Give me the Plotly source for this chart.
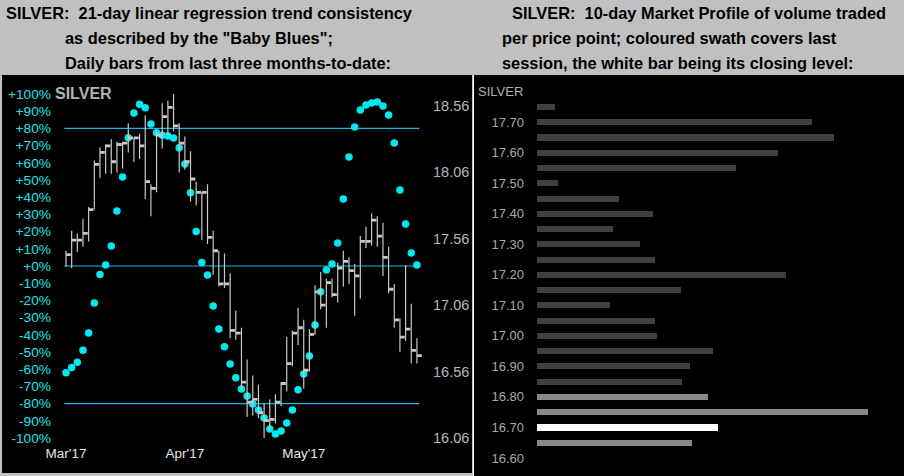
import plotly.graph_objects as go

# ---------------- data ----------------
# Left chart: daily bars (index 0..62), price axis
high = [17.47, 17.62, 17.60, 17.71, 17.80, 18.15, 18.25, 18.27, 18.31, 18.29,
        18.29, 18.43, 18.32, 18.35, 18.49, 17.97, 18.37, 18.58, 18.60, 18.65,
        18.43, 18.33, 18.22, 17.99, 17.91, 17.97, 17.62, 17.47, 17.45, 17.30,
        17.02, 16.89, 16.65, 16.53, 16.46, 16.32, 16.35, 16.39, 16.48, 16.82,
        16.87, 17.04, 16.95, 16.88, 17.21, 17.31, 17.26, 17.26, 17.38, 17.47,
        17.42, 17.37, 17.58, 17.65, 17.75, 17.73, 17.68, 17.50, 17.22, 16.96,
        17.36, 17.07, 16.81]
low = [17.35, 17.34, 17.46, 17.50, 17.54, 17.78, 18.02, 18.05, 18.05, 18.06,
       18.09, 18.21, 18.14, 18.16, 17.86, 17.73, 17.91, 18.24, 18.34, 18.37,
       18.06, 18.08, 17.84, 17.81, 17.55, 17.52, 17.29, 17.20, 17.19, 16.81,
       16.80, 16.42, 16.22, 16.23, 16.21, 16.06, 16.12, 16.17, 16.30, 16.41,
       16.60, 16.76, 16.43, 16.56, 16.84, 17.03, 16.89, 17.12, 17.08, 17.20,
       17.22, 16.98, 17.11, 17.49, 17.51, 17.50, 17.28, 17.15, 16.89, 16.71,
       16.79, 16.62, 16.62]
close = [17.44, 17.55, 17.55, 17.60, 17.78, 18.12, 18.21, 18.26, 18.14, 18.27,
         18.28, 18.32, 18.32, 18.26, 17.99, 17.94, 18.34, 18.48, 18.55, 18.41,
         18.28, 18.14, 18.01, 17.91, 17.91, 17.57, 17.47, 17.22, 17.22, 16.87,
         16.85, 16.48, 16.33, 16.35, 16.25, 16.19, 16.20, 16.33, 16.47, 16.62,
         16.85, 16.89, 16.57, 16.84, 17.16, 17.06, 17.23, 17.14, 17.34, 17.39,
         17.32, 17.28, 17.54, 17.54, 17.70, 17.58, 17.42, 17.18, 16.95, 16.82,
         16.88, 16.72, 16.68]
# "Baby Blues" trend consistency (%)
baby_blues = [-62, -59, -56, -49, -39, -21.5, -5, 0.6, 11.6, 32,
              51.7, 74.6, 89, 94, 92, 82.6, 77.5, 76, 75.6, 74.4,
              68.8, 59.3, 42.6, 20, 2, -5.2, -23.3, -36.6, -47, -57,
              -65, -71.5, -75.6, -80.2, -83.7, -88.4, -94.8, -97.7, -95.9, -91.3,
              -83.7, -72, -62.8, -52.3, -34.3, -15, -2.3, 1.2, 13.4, 39,
              63.4, 80.8, 90.7, 93.6, 94.8, 95.3, 93, 87.8, 71.5, 44.2,
              24.4, 7.6, 0.6]
ref_levels = [80, 0, -80]
month_labels = ["Mar'17", "Apr'17", "May'17"]
month_label_idx = [0, 21, 42]
pct_ticks = [100, 90, 80, 70, 60, 50, 40, 30, 20, 10, 0,
             -10, -20, -30, -40, -50, -60, -70, -80, -90, -100]
price_ticks = [16.06, 16.56, 17.06, 17.56, 18.06, 18.56]

# Right chart: 10-day market profile
profile_price = [17.75, 17.70, 17.65, 17.60, 17.55, 17.50, 17.45, 17.40, 17.35,
                 17.30, 17.25, 17.20, 17.15, 17.10, 17.05, 17.00, 16.95, 16.90,
                 16.85, 16.80, 16.75, 16.70, 16.65]
profile_volume = [18, 275, 297, 241, 199, 21, 82, 116, 76, 103, 118, 249, 144,
                  73, 118, 120, 176, 153, 145, 171, 331, 181, 155]
profile_ticks = [17.70, 17.60, 17.50, 17.40, 17.30, 17.20, 17.10, 17.00,
                 16.90, 16.80, 16.70, 16.60]
last_session_low = 16.65
last_session_high = 16.80
last_close_level = 16.70

# ---------------- layout helpers ----------------
W, H = 904, 476
FONT = "Liberation Sans"


def fx(p):
    return p / W


def fy(p):
    return 1 - p / H


CYAN_TXT = "#22e0ea"
CYAN_DOT = "#00e8f0"
CYAN_LINE = "#1ab8e8"
BAR_GRAY = "#c8c8c8"

fig = go.Figure()

# OHLC-style bars (high-low stem + close flag to the right)
stem_x, stem_y, flag_x, flag_y = [], [], [], []
for i, (h, l, c) in enumerate(zip(high, low, close)):
    stem_x += [i, i, None]
    stem_y += [l, h, None]
    flag_x += [i, i + 0.85, None]
    flag_y += [c, c, None]

fig.add_trace(go.Scatter(x=stem_x, y=stem_y, mode="lines",
                         line=dict(color=BAR_GRAY, width=1.2),
                         xaxis="x", yaxis="y2", hoverinfo="skip", showlegend=False))
fig.add_trace(go.Scatter(x=flag_x, y=flag_y, mode="lines",
                         line=dict(color=BAR_GRAY, width=2.8),
                         xaxis="x", yaxis="y2", hoverinfo="skip", showlegend=False))
fig.add_trace(go.Scatter(x=list(range(len(baby_blues))), y=baby_blues, mode="markers",
                         marker=dict(color=CYAN_DOT, size=7.5),
                         xaxis="x", yaxis="y", showlegend=False))

# Market profile bars
colors = []
for p in profile_price:
    if abs(p - last_close_level) < 1e-6:
        colors.append("#ffffff")
    elif last_session_low - 1e-6 <= p <= last_session_high + 1e-6:
        colors.append("#888888")
    else:
        colors.append("#404040")
fig.add_trace(go.Bar(x=profile_volume, y=profile_price, orientation="h",
                     width=0.02, marker=dict(color=colors, line=dict(width=0)),
                     xaxis="x2", yaxis="y3", showlegend=False))

# ---------------- shapes ----------------
shapes = [
    dict(type="rect", xref="paper", yref="paper", x0=fx(2), x1=fx(472),
         y0=fy(473), y1=fy(75), fillcolor="#000000", line=dict(width=0), layer="below"),
    dict(type="rect", xref="paper", yref="paper", x0=fx(474), x1=fx(904),
         y0=fy(476), y1=fy(75), fillcolor="#000000", line=dict(width=0), layer="below"),
    dict(type="line", xref="paper", yref="paper", x0=fx(473.5), x1=fx(473.5),
         y0=fy(476), y1=fy(75), line=dict(color="#ffffff", width=1), layer="below"),
]
for lv in ref_levels:
    shapes.append(dict(type="line", xref="x", yref="y", x0=-0.3, x1=62.4,
                       y0=lv, y1=lv, line=dict(color=CYAN_LINE, width=1.2), layer="below"))

# ---------------- annotations ----------------
ann = []
title_font = dict(family=FONT, size=16.4, color="#000000")
left_lines = ["<b>SILVER:\u00a0 21-day linear regression trend consistency</b>",
              "<b>as described by the \"Baby Blues\";</b>",
              "<b>Daily bars from last three months-to-date:</b>"]
right_lines = ["<b>SILVER:\u00a0 10-day Market Profile of volume traded</b>",
               "<b>per price point; coloured swath covers last</b>",
               "<b>session, the white bar being its closing level:</b>"]
line_y = [13, 38, 63]
left_x = [4, 63, 63]
right_x = [510, 500, 500]
for t, yy, xx in zip(left_lines, line_y, left_x):
    ann.append(dict(text=t, x=fx(xx), y=fy(yy), xref="paper", yref="paper",
                    xanchor="left", yanchor="middle", showarrow=False, font=title_font))
for t, yy, xx in zip(right_lines, line_y, right_x):
    ann.append(dict(text=t, x=fx(xx), y=fy(yy), xref="paper", yref="paper",
                    xanchor="left", yanchor="middle", showarrow=False, font=title_font))
ann.append(dict(text="<b>SILVER</b>", x=fx(53), y=fy(94), xref="paper", yref="paper",
                xanchor="left", yanchor="middle", showarrow=False,
                font=dict(family=FONT, size=16, color="#b4b4b4")))
ann.append(dict(text="SILVER", x=fx(476), y=fy(91), xref="paper", yref="paper",
                xanchor="left", yanchor="middle", showarrow=False,
                font=dict(family=FONT, size=13, color="#b0b0b0")))

# ---------------- axes ----------------
y_top, y_bot = 85.4, 446.6
fig.update_layout(
    template="none",
    width=W, height=H,
    margin=dict(l=0, r=0, t=0, b=0, pad=0),
    paper_bgcolor="#c0c0c0",
    plot_bgcolor="rgba(0,0,0,0)",
    shapes=shapes,
    annotations=ann,
    showlegend=False,
    bargap=0,
    xaxis=dict(domain=[fx(54.68), fx(428.24)], range=[-2, 64],
               anchor="free", position=fy(443), automargin=False,
               tickvals=month_label_idx, ticktext=month_labels,
               showgrid=False, zeroline=False, showline=False, ticks="",
               tickfont=dict(family=FONT, size=13.5, color="#e6e6e6")),
    yaxis=dict(domain=[fy(y_bot), fy(y_top)], range=[-105, 105],
               anchor="free", position=fx(51), side="left", automargin=False,
               tickvals=pct_ticks,
               ticktext=[("+" if v >= 0 else "") + f"{v}%" for v in pct_ticks],
               showgrid=False, zeroline=False, showline=False, ticks="",
               tickfont=dict(family=FONT, size=13.7, color=CYAN_TXT)),
    yaxis2=dict(overlaying="y", side="right", anchor="free", position=fx(432),
                automargin=False,
                range=[15.995, 18.715], tickvals=price_ticks,
                ticktext=[f"{v:.2f}" for v in price_ticks],
                showgrid=False, zeroline=False, showline=False, ticks="",
                tickfont=dict(family=FONT, size=14.5, color="#b8b8b8")),
    xaxis2=dict(domain=[fx(537), fx(900)], range=[0, 363], anchor="y3",
                visible=False, automargin=False),
    yaxis3=dict(domain=[fy(472), fy(80)], range=[16.554, 17.8385],
                anchor="free", position=fx(524), side="left", automargin=False,
                tickvals=profile_ticks, ticktext=[f"{v:.2f}" for v in profile_ticks],
                showgrid=False, zeroline=False, showline=False, ticks="",
                tickfont=dict(family=FONT, size=13, color="#a8a8a8")),
)

fig.write_html("out.html", config={"displayModeBar": False},
               post_script="document.body.style.margin='0';document.body.style.overflow='hidden';")
